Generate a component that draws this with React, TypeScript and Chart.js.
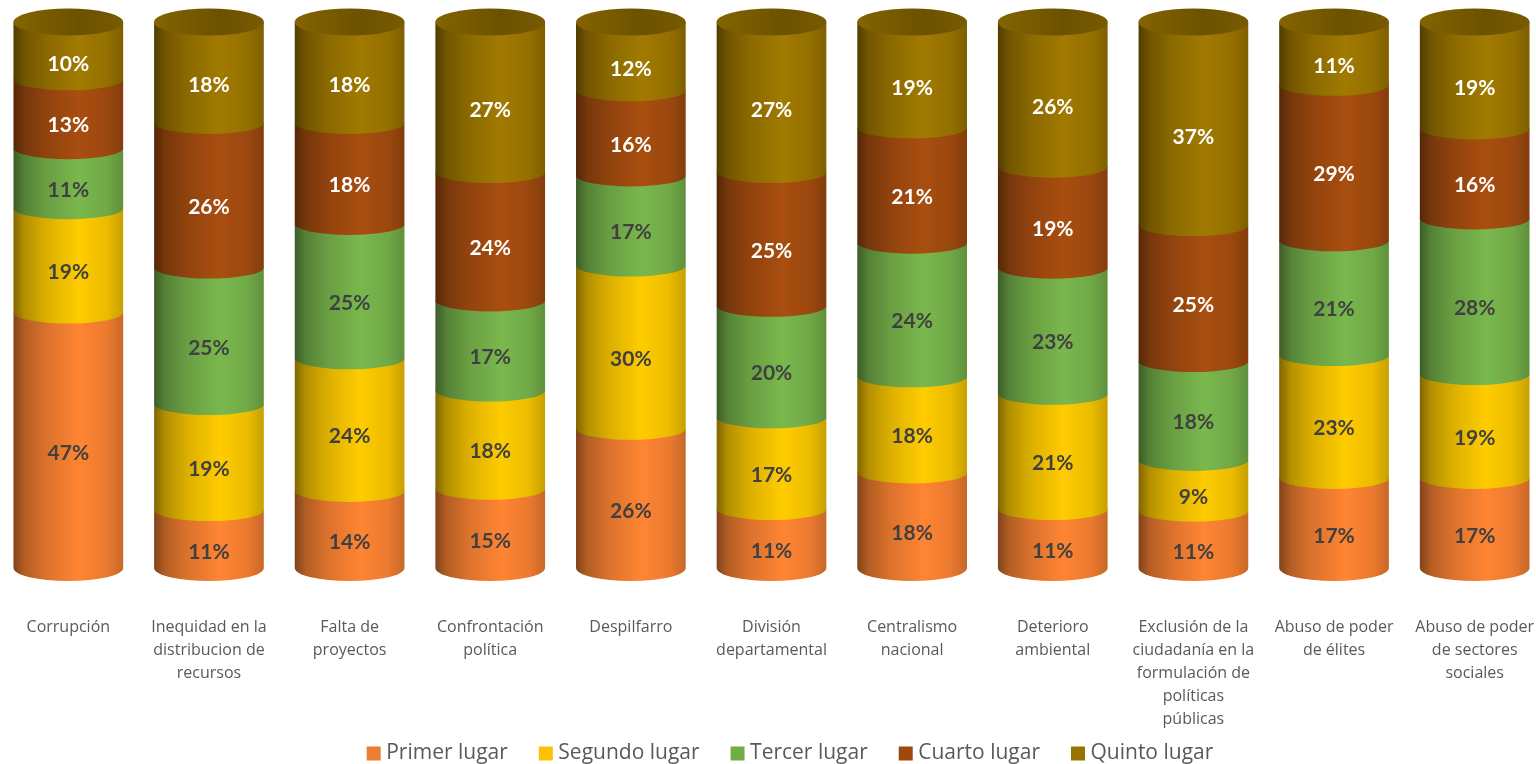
import React, { useEffect, useRef } from "react";
import { Chart, registerables } from "chart.js";

Chart.register(...registerables);

const categories: string[][] = [
  ["Corrupción"],
  ["Inequidad en la", "distribucion de", "recursos"],
  ["Falta de", "proyectos"],
  ["Confrontación", "política"],
  ["Despilfarro"],
  ["División", "departamental"],
  ["Centralismo", "nacional"],
  ["Deterioro", "ambiental"],
  ["Exclusión de la", "ciudadanía en la", "formulación de", "políticas", "públicas"],
  ["Abuso de poder", "de élites"],
  ["Abuso de poder", "de sectores", "sociales"],
];

const primerLugar = [46.8, 10.6, 14.12, 14.5, 25.5, 10.81, 17.5, 10.81, 10.5, 16.5, 16.5];
const segundoLugar = [19.1, 19.42, 24.3, 18.01, 29.9, 16.8, 17.6, 21.1, 9.3, 22.51, 19.03];
const tercerLugar = [11, 25, 24.6, 16.5, 16.5, 20.4, 24.49, 23.1, 18.1, 21, 28.49];
const cuartoLugar = [12.6, 26.49, 18.49, 23.5, 15.6, 24.5, 21.1, 18.5, 24.9, 28.5, 16.49];
const quintoLugar = [10.49, 18.49, 18.49, 27.49, 12.49, 27.49, 19.31, 26.49, 37.2, 11.49, 19.49];

const seriesNames = ["Primer lugar", "Segundo lugar", "Tercer lugar", "Cuarto lugar", "Quinto lugar"];
const seriesValues = [primerLugar, segundoLugar, tercerLugar, cuartoLugar, quintoLugar];
const legendColors = ["#ED7D31", "#FFC000", "#70AD47", "#9E480E", "#997300"];
const peakColors = [[255, 133, 51], [255, 204, 0], [122, 184, 77], [169, 78, 16], [161, 122, 0]];
const labelColors = ["#404040", "#404040", "#404040", "#FFFFFF", "#FFFFFF"];

const RY_RING = 11;
const RY_BASE = 13;
const RY_CAP = 13.5;
const LABEL_NUDGE = 1;
const shadeStops: [number, number][] = [
  [0, 0.5],
  [0.1, 0.7],
  [0.3, 0.86],
  [0.6, 1],
  [0.85, 0.92],
  [1, 0.78],
];

const cylinderPlugin = {
  id: "cylinder",
  afterLayout(chart: any) {
    const legend = chart.legend;
    if (legend) {
      legend.left += 21;
      legend.right += 21;
      legend.top -= 26;
      legend.bottom -= 26;
    }
  },
  beforeDatasetDraw() {
    return false;
  },
  afterDatasetsDraw(chart: any) {
    const ctx: CanvasRenderingContext2D = chart.ctx;
    const last = seriesValues.length - 1;
    categories.forEach((_, j) => {
      seriesValues.forEach((_s, i) => {
        const el = chart.getDatasetMeta(i).data[j];
        const { x, y, base, width } = el.getProps(["x", "y", "base", "width"], true);
        const rx = width / 2;
        const g = ctx.createLinearGradient(x - rx, 0, x + rx, 0);
        shadeStops.forEach(([p, m]) => {
          const [r, gg, b] = peakColors[i];
          g.addColorStop(p, `rgb(${Math.round(r * m)},${Math.round(gg * m)},${Math.round(b * m)})`);
        });
        ctx.save();
        ctx.beginPath();
        ctx.moveTo(x - rx, y);
        ctx.lineTo(x + rx, y);
        ctx.lineTo(x + rx, base);
        ctx.ellipse(x, base, rx, i === 0 ? RY_BASE : RY_RING, 0, 0, Math.PI);
        ctx.closePath();
        ctx.fillStyle = g;
        ctx.fill();
        if (i === last) {
          const c = ctx.createLinearGradient(x - rx, 0, x + rx, 0);
          c.addColorStop(0, "#846400");
          c.addColorStop(0.6, "#6C5100");
          c.addColorStop(1, "#785A00");
          ctx.beginPath();
          ctx.ellipse(x, y, rx, RY_CAP, 0, 0, Math.PI * 2);
          ctx.fillStyle = c;
          ctx.fill();
        }
        ctx.restore();
      });
      seriesValues.forEach((values, i) => {
        const el = chart.getDatasetMeta(i).data[j];
        const { x, y, base } = el.getProps(["x", "y", "base"], true);
        const bottomY = base + (i === 0 ? RY_BASE : RY_RING);
        const topY = y + (i === last ? RY_CAP : RY_RING);
        ctx.save();
        ctx.font = 'bold 21px Lato, "Open Sans", sans-serif';
        ctx.textAlign = "center";
        ctx.textBaseline = "middle";
        ctx.fillStyle = labelColors[i];
        ctx.fillText(`${Math.round(values[j])}%`, x, (topY + bottomY) / 2 + LABEL_NUDGE);
        ctx.restore();
      });
    });
  },
};

export default function App() {
  const ref = useRef<HTMLCanvasElement>(null);
  useEffect(() => {
    const chart = new Chart(ref.current as HTMLCanvasElement, {
      type: "bar",
      data: {
        labels: categories as any,
        datasets: seriesNames.map((name, i) => ({
          label: name,
          data: seriesValues[i],
          backgroundColor: legendColors[i],
          borderWidth: 0,
          barPercentage: 1,
          categoryPercentage: 0.78,
        })),
      },
      options: {
        responsive: false,
        animation: false,
        devicePixelRatio: 1,
        layout: { padding: { top: 22, left: 0, right: 0, bottom: -36 } },
        scales: {
          x: {
            stacked: true,
            border: { display: false },
            grid: { display: false, drawTicks: true, tickLength: 48 },
            afterFit: (s: any) => {
              s.height = 165;
            },
            ticks: {
              autoSkip: false,
              maxRotation: 0,
              minRotation: 0,
              padding: 0,
              color: "#595959",
              font: { family: '"Open Sans", sans-serif', size: 16, lineHeight: 1.44 },
            },
          },
          y: { stacked: true, display: false, min: 0, max: 100 },
        },
        plugins: {
          tooltip: { enabled: false },
          legend: {
            position: "bottom",
            labels: {
              usePointStyle: true,
              pointStyle: "rect",
              boxWidth: 4,
              boxHeight: 14,
              padding: 36,
              color: "#595959",
              font: { family: '"Open Sans", sans-serif', size: 21 },
            },
          },
        },
      },
      plugins: [cylinderPlugin],
    } as any);
    return () => chart.destroy();
  }, []);
  return (
    <div style={{ position: "fixed", inset: 0, overflow: "hidden", background: "#fff" }}>
      <canvas ref={ref} width={1547} height={764} style={{ position: "absolute", left: -2, top: 0 }} />
    </div>
  );
}
